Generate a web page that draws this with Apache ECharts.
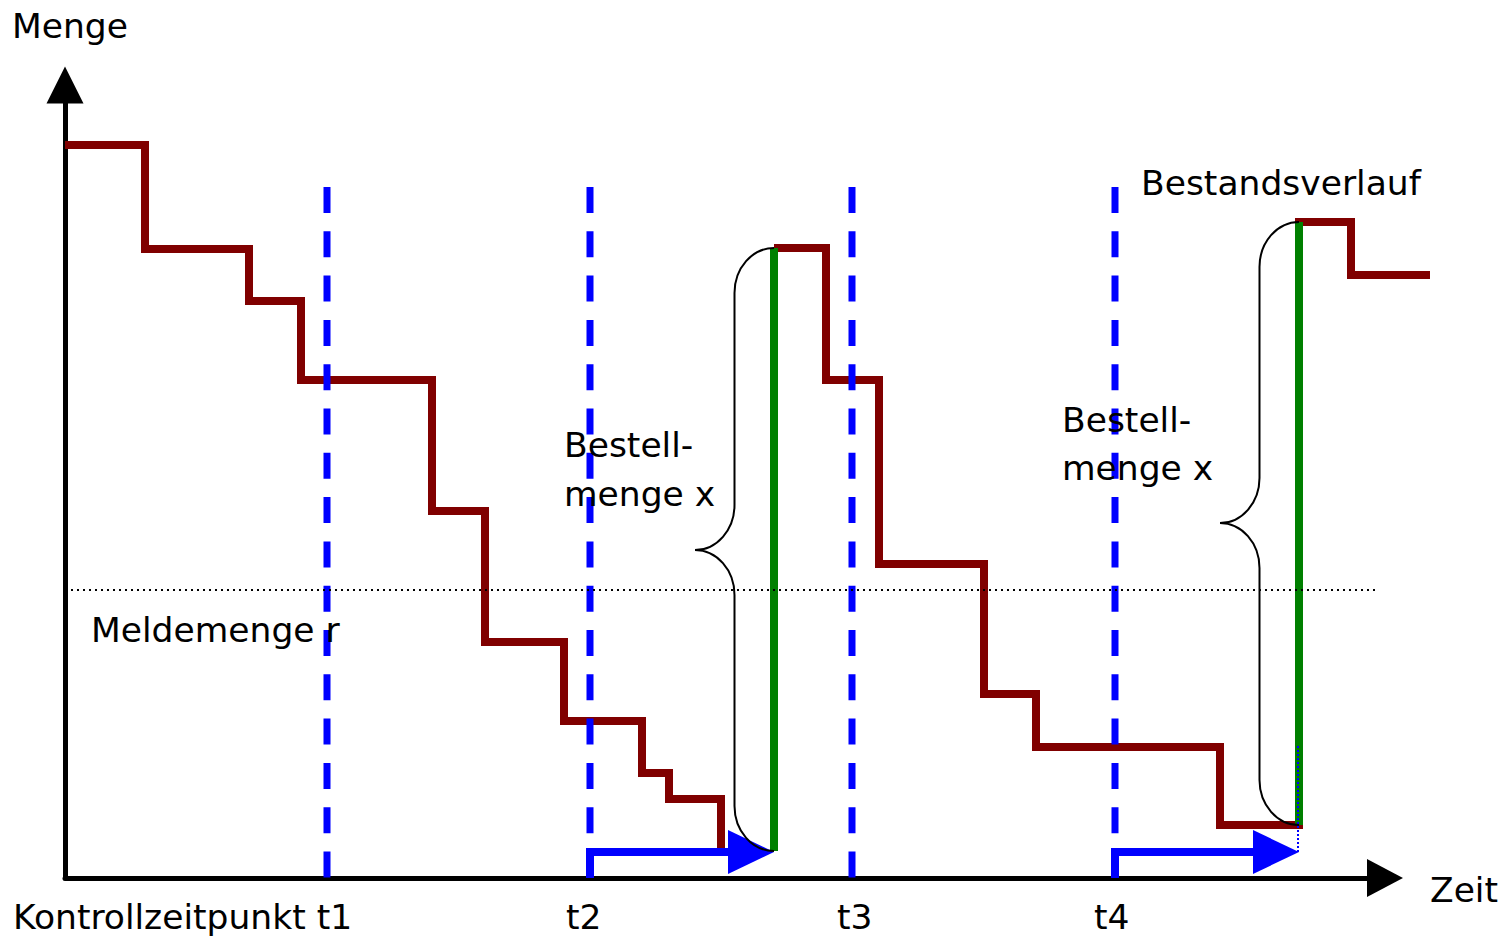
<!DOCTYPE html>
<html>
<head>
<meta charset="utf-8">
<script src="https://cdn.jsdelivr.net/npm/echarts@6/dist/echarts.min.js"></script>
<style>
html,body{margin:0;padding:0;background:#fff;}
#chart{width:1506px;height:939px;}
</style>
</head>
<body>
<div id="chart"></div>
<script>
// ---- data (Zeit / Menge units) ----
const stockPart1 = [[0,733],[80,629],[184,577],[236,498],[367,367],[420,236],[499,157],[577,105],[604,79],[656,27]];
const stockPart2 = [[709,630],[761,498],[814,314],[919,184],[971,131],[1155,53],[1234,656],[1286,603],[1365,603]];
const deliveries = [[709,27,630],[1234,53,656]];          // x, Menge vorher, Menge nachher
const controlTimes = [262,525,787,1050];                   // t1..t4
const controlTop = 691;
const reorderLevel = 288;                                  // Meldemenge r
const reorderEnd = 1310;
const leadTimes = [[525,709,26],[1050,1234,26]];           // Bestellung -> Lieferung
const orderBraces = [[709,630,630,27,328],[1234,1155,656,53,355]]; // xEnd, xTip, yTop, yBottom, yMid
const leadDotted = [[1233,26],[1233,133]];
const xMax = 1320, yMax = 793;

const FONT = '34.5px "DejaVu Sans", Verdana, sans-serif';
const stockParts = [stockPart1, stockPart2];

const chart = echarts.init(document.getElementById('chart'), null, {renderer:'svg'});

const series = [];
// stock level (step line), drawn through the cartesian coordinate system
series.push({type:'custom', clip:false, z:2, animation:false,
  data: stockParts.map((p,i) => [p[0][0], p[0][1], i]),
  renderItem(params, api){
    const part = stockParts[api.value(2)];
    const pts = [];
    for (let i = 0; i < part.length; i++) {
      if (i > 0) pts.push(api.coord([part[i][0], part[i-1][1]]));
      pts.push(api.coord(part[i]));
    }
    return {type:'polyline', shape:{points:pts}, style:{stroke:'#800000', lineWidth:8, fill:null, lineJoin:'miter', lineCap:'butt'}};
  }});
deliveries.forEach(d => {
  series.push({type:'line', data:[[d[0],d[1]],[d[0],d[2]]], symbol:'none', clip:false, z:3,
    lineStyle:{color:'#008000', width:8}, animation:false});
});
controlTimes.forEach(t => {
  series.push({type:'line', data:[[t,controlTop],[t,0]], symbol:'none', clip:false, z:4,
    lineStyle:{color:'#0000ff', width:7, type:[26,18.3]}, animation:false});
});
series.push({type:'line', data:[[0,reorderLevel],[reorderEnd,reorderLevel]], symbol:'none', clip:false, z:5,
  lineStyle:{color:'#000', width:2, type:[2,4]}, animation:false});
series.push({type:'line', data:leadDotted, symbol:'none', clip:false, z:6,
  lineStyle:{color:'#0000ff', width:2, type:[2,2]}, animation:false});
series.push({type:'custom', clip:false, z:5, animation:false, data:leadTimes,
  renderItem(params, api){
    const x0 = api.value(0), x1 = api.value(1), y = api.value(2);
    const pB = api.coord([x0,0]), pC = api.coord([x0,y]), pT = api.coord([x1,y]);
    const hl = 46, hh = 22;
    return {type:'group', children:[
      {type:'polyline', shape:{points:[pB,pC,[pT[0]-hl+2,pT[1]]]}, style:{stroke:'#0000ff', lineWidth:8, fill:null, lineJoin:'miter'}},
      {type:'polygon', shape:{points:[[pT[0]-hl,pT[1]-hh],[pT[0],pT[1]],[pT[0]-hl,pT[1]+hh]]}, style:{fill:'#0000ff'}}
    ]};
  }});
series.push({type:'custom', clip:false, z:7, animation:false, data:orderBraces,
  renderItem(params, api){
    const e = api.coord([api.value(0), api.value(2)]);
    const b = api.coord([api.value(0), api.value(3)]);
    const m = api.coord([api.value(1), api.value(4)]);
    const xe = e[0], xt = m[0], yt = e[1], yb = b[1], ym = m[1];
    const xs = (xe + xt) / 2, dx = xe - xs, ry = 45, k = 0.552;
    const p = [
      'M', xe, yt,
      'C', xe - k*dx, yt, xs, yt + ry - k*ry, xs, yt + ry,
      'L', xs, ym - ry,
      'C', xs, ym - ry + k*ry, xt + k*dx, ym, xt, ym,
      'C', xt + k*dx, ym, xs, ym + ry - k*ry, xs, ym + ry,
      'L', xs, yb - ry,
      'C', xs, yb - ry + k*ry, xe - k*dx, yb, xe, yb
    ].join(' ');
    return {type:'path', shape:{pathData:p}, style:{stroke:'#000', lineWidth:2, fill:null}};
  }});

const labels = ['Menge','Zeit','Kontrollzeitpunkt t1','t2','t3','t4','Bestandsverlauf','Bestell-','menge x','Bestell-','menge x','Meldemenge r'];
const labelPos = [[12,26],[1430,890],[13,917],[566,917],[837,917],[1094,917],[1141,183],[564,445],[564,494],[1062,420],[1062,468],[91,630]];

const graphic = labels.map((t,i) => ({
  type:'text', z:100, x:labelPos[i][0], y:labelPos[i][1],
  style:{text:t, font:FONT, fill:'#000', textAlign:'left', textVerticalAlign:'middle'}
}));

chart.setOption({
  backgroundColor:'#fff',
  animation:false,
  grid:{left:65, right:121, top:85, bottom:61, containLabel:false},
  xAxis:{type:'value', min:0, max:xMax, splitLine:{show:false}, axisTick:{show:false}, axisLabel:{show:false},
    axisLine:{show:true, onZero:false, symbol:['none','triangle'], symbolSize:[38,36], lineStyle:{color:'#000', width:5}}},
  yAxis:{type:'value', min:0, max:yMax, splitLine:{show:false}, axisTick:{show:false}, axisLabel:{show:false},
    axisLine:{show:true, onZero:false, symbol:['none','triangle'], symbolSize:[37,37], lineStyle:{color:'#000', width:5}}},
  series:series,
  graphic:graphic
});
</script>
</body>
</html>
